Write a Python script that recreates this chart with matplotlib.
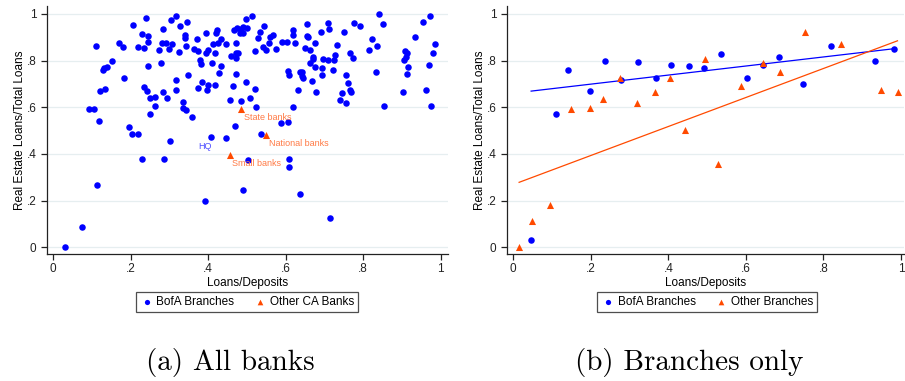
import numpy as np
import matplotlib
matplotlib.use("Agg")
import matplotlib.pyplot as plt

# ---- panel (a): all banks ----
bofa_x = [
    0.092, 0.105, 0.109, 0.119, 0.120, 0.133, 0.129, 0.132, 0.138, 0.151,
    0.169, 0.181, 0.182, 0.196, 0.202, 0.206, 0.219, 0.220, 0.229, 0.233,
    0.235, 0.240, 0.241, 0.244, 0.245, 0.244, 0.249, 0.250, 0.262, 0.263,
    0.272, 0.278, 0.282, 0.281, 0.284, 0.292, 0.294, 0.299, 0.301, 0.304,
    0.307, 0.316, 0.317, 0.318, 0.324, 0.327, 0.334, 0.336, 0.340, 0.341,
    0.343, 0.343, 0.346, 0.349, 0.358, 0.363, 0.371, 0.373, 0.373, 0.380,
    0.382, 0.384, 0.393, 0.393, 0.397, 0.399, 0.400, 0.410, 0.413, 0.417,
    0.417, 0.419, 0.423, 0.426, 0.429, 0.432, 0.434, 0.445, 0.445, 0.456,
    0.460, 0.463, 0.466, 0.469, 0.471, 0.472, 0.472, 0.473, 0.475, 0.478,
    0.482, 0.485, 0.484, 0.489, 0.491, 0.497, 0.499, 0.497, 0.508, 0.512,
    0.521, 0.522, 0.523, 0.528, 0.534, 0.537, 0.542, 0.545, 0.548, 0.557,
    0.559, 0.568, 0.576, 0.589, 0.590, 0.604, 0.606, 0.608, 0.606, 0.618,
    0.619, 0.619, 0.623, 0.633, 0.636, 0.641, 0.643, 0.645, 0.651, 0.654,
    0.656, 0.657, 0.664, 0.664, 0.667, 0.670, 0.671, 0.676, 0.675, 0.677,
    0.692, 0.695, 0.694, 0.697, 0.709, 0.711, 0.708, 0.722, 0.726, 0.728,
    0.733, 0.740, 0.745, 0.751, 0.756, 0.757, 0.762, 0.766, 0.766, 0.768,
    0.773, 0.776, 0.793, 0.815, 0.824, 0.832, 0.835, 0.841, 0.850, 0.855,
    0.904, 0.906, 0.909, 0.910, 0.912, 0.913, 0.917, 0.935, 0.954, 0.962,
    0.969, 0.973, 0.974, 0.981, 0.985, 0.406,
    0.230, 0.286, 0.502, 0.608, 0.609, 0.114, 0.391, 0.491, 0.638, 0.073,
    0.030, 0.714,
]
bofa_y = [
    0.593, 0.593, 0.864, 0.541, 0.670, 0.679, 0.761, 0.766, 0.771, 0.799,
    0.876, 0.859, 0.726, 0.517, 0.486, 0.950, 0.487, 0.857, 0.914, 0.854,
    0.686, 0.984, 0.670, 0.880, 0.906, 0.776, 0.571, 0.641, 0.644, 0.604,
    0.844, 0.790, 0.936, 0.876, 0.667, 0.877, 0.640, 0.850, 0.456, 0.973,
    0.871, 0.673, 0.989, 0.716, 0.837, 0.947, 0.621, 0.597, 0.909, 0.896,
    0.864, 0.586, 0.964, 0.737, 0.559, 0.849, 0.893, 0.839, 0.681, 0.801,
    0.784, 0.709, 0.919, 0.831, 0.673, 0.697, 0.847, 0.791, 0.869, 0.693,
    0.834, 0.916, 0.930, 0.876, 0.747, 0.893, 0.776, 0.869, 0.467, 0.630,
    0.821, 0.690, 0.930, 0.520, 0.834, 0.877, 0.809, 0.741, 0.940, 0.830,
    0.919, 0.937, 0.626, 0.944, 0.916, 0.977, 0.941, 0.706, 0.639, 0.990,
    0.840, 0.677, 0.601, 0.897, 0.923, 0.486, 0.859, 0.947, 0.844, 0.877,
    0.900, 0.909, 0.850, 0.533, 0.879, 0.880, 0.757, 0.739, 0.536, 0.599,
    0.931, 0.910, 0.874, 0.673, 0.749, 0.733, 0.750, 0.727, 0.854, 0.956,
    0.907, 0.900, 0.847, 0.790, 0.711, 0.806, 0.816, 0.773, 0.877, 0.663,
    0.921, 0.766, 0.739, 0.806, 0.960, 0.934, 0.801, 0.759, 0.804, 0.823,
    0.866, 0.631, 0.661, 0.920, 0.619, 0.737, 0.704, 0.830, 0.673, 0.664,
    0.809, 0.961, 0.947, 0.843, 0.890, 0.751, 0.863, 1.000, 0.957, 0.607,
    0.666, 0.804, 0.841, 0.814, 0.833, 0.743, 0.771, 0.899, 0.964, 0.673,
    0.780, 0.989, 0.607, 0.833, 0.869, 0.473,
    0.379, 0.379, 0.373, 0.380, 0.346, 0.266, 0.199, 0.244, 0.228, 0.088,
    0.000, 0.124,
]
other_banks = ["State banks", "National banks", "Small banks"]
other_x = [0.4845, 0.549, 0.455]
other_y = [0.593, 0.481, 0.395]
hq_x, hq_y = 0.406, 0.473

# ---- panel (b): branches only ----
br_bofa_x = [0.046, 0.110, 0.140, 0.199, 0.237, 0.278, 0.322, 0.367, 0.408, 0.453,
             0.491, 0.536, 0.604, 0.645, 0.686, 0.746, 0.819, 0.933, 0.982]
br_bofa_y = [0.030, 0.571, 0.760, 0.671, 0.796, 0.716, 0.794, 0.727, 0.779, 0.776,
             0.767, 0.827, 0.724, 0.779, 0.814, 0.700, 0.863, 0.799, 0.850]
br_other_x = [0.015, 0.049, 0.095, 0.150, 0.197, 0.232, 0.274, 0.319, 0.365, 0.404,
              0.442, 0.495, 0.527, 0.587, 0.643, 0.689, 0.752, 0.846, 0.949, 0.991]
br_other_y = [0.003, 0.113, 0.182, 0.593, 0.596, 0.637, 0.724, 0.620, 0.664, 0.723,
              0.501, 0.807, 0.358, 0.691, 0.791, 0.750, 0.923, 0.869, 0.673, 0.666]
# linear fits (intercept, slope)
fit_bofa = (0.660, 0.194)
fit_other = (0.269, 0.621)

ticks = [0, 0.2, 0.4, 0.6, 0.8, 1.0]
tick_labels = ["0", ".2", ".4", ".6", ".8", "1"]

BLUE = "#0000ff"
ORANGE = "#ff4a00"
LABEL_ORANGE = "#ff7a45"
GRID = "#e6eef0"

plt.rcParams["font.family"] = ["Liberation Sans", "DejaVu Sans"]

fig = plt.figure(figsize=(9.05, 3.81), dpi=100)
ax1 = fig.add_axes([0.0516, 0.3325, 0.4434, 0.6515])
ax2 = fig.add_axes([0.5599, 0.3325, 0.4391, 0.6515])


def style(ax, xmax):
    ax.set_xlim(-0.017, xmax)
    ax.set_ylim(-0.030, 1.033)
    ax.set_xticks(ticks)
    ax.set_xticklabels(tick_labels)
    ax.set_yticks(ticks)
    ax.set_yticklabels(tick_labels)
    ax.tick_params(direction="out", length=4, width=0.9, labelsize=8.5, colors="#222222")
    ax.tick_params(axis="x", pad=2)
    for s in ["top", "right"]:
        ax.spines[s].set_visible(False)
    for s in ["left", "bottom"]:
        ax.spines[s].set_linewidth(0.9)
        ax.spines[s].set_color("#222222")
    ax.grid(axis="y", color=GRID, linewidth=0.9)
    ax.set_axisbelow(True)
    ax.set_xlabel("Loans/Deposits", fontsize=8.5, labelpad=2)
    ax.set_ylabel("Real Estate Loans/Total Loans", fontsize=8.5, labelpad=0)


style(ax1, 1.019)
style(ax2, 1.008)

# panel (a)
ax1.scatter(bofa_x, bofa_y, s=22, color=BLUE, linewidths=0, label="BofA Branches", zorder=3)
ax1.scatter(other_x, other_y, s=26, marker="^", color=ORANGE, linewidths=0,
            label="Other CA Banks", zorder=3)
for name, x, y in zip(other_banks, other_x, other_y):
    ax1.annotate(name, (x, y), xytext=(2, -3), textcoords="offset points",
                 ha="left", va="top", fontsize=6.5, color=LABEL_ORANGE, zorder=4)
ax1.annotate("HQ", (hq_x, hq_y), xytext=(-4, -4), textcoords="offset points",
             ha="center", va="top", fontsize=6.5, color="#4d4dff", zorder=4)

# panel (b)
ax2.scatter(br_bofa_x, br_bofa_y, s=22, color=BLUE, linewidths=0, label="BofA Branches", zorder=3)
ax2.scatter(br_other_x, br_other_y, s=26, marker="^", color=ORANGE, linewidths=0,
            label="Other Branches", zorder=3)
xb = np.array([min(br_bofa_x), max(br_bofa_x)])
ax2.plot(xb, fit_bofa[0] + fit_bofa[1] * xb, color=BLUE, linewidth=0.9, zorder=2)
xo = np.array([min(br_other_x), max(br_other_x)])
ax2.plot(xo, fit_other[0] + fit_other[1] * xo, color=ORANGE, linewidth=0.9, zorder=2)

for ax in (ax1, ax2):
    pos = ax.get_position()
    leg = ax.legend(loc="upper center", bbox_to_anchor=(pos.x0 + 0.2214, 0.233),
                    bbox_transform=fig.transFigure, ncol=2, fontsize=8.5, frameon=True,
                    fancybox=False, borderpad=0.35, handletextpad=0.2, columnspacing=1.6,
                    handlelength=1.2, markerscale=0.8, borderaxespad=0)
    leg.get_frame().set_edgecolor("#222222")
    leg.get_frame().set_linewidth(0.9)

fig.text(0.254, 0.03, "(a) All banks", fontsize=21, family="cmr10", ha="center")
fig.text(0.762, 0.03, "(b) Branches only", fontsize=21, family="cmr10", ha="center")

fig.savefig("out.png", dpi=100)
